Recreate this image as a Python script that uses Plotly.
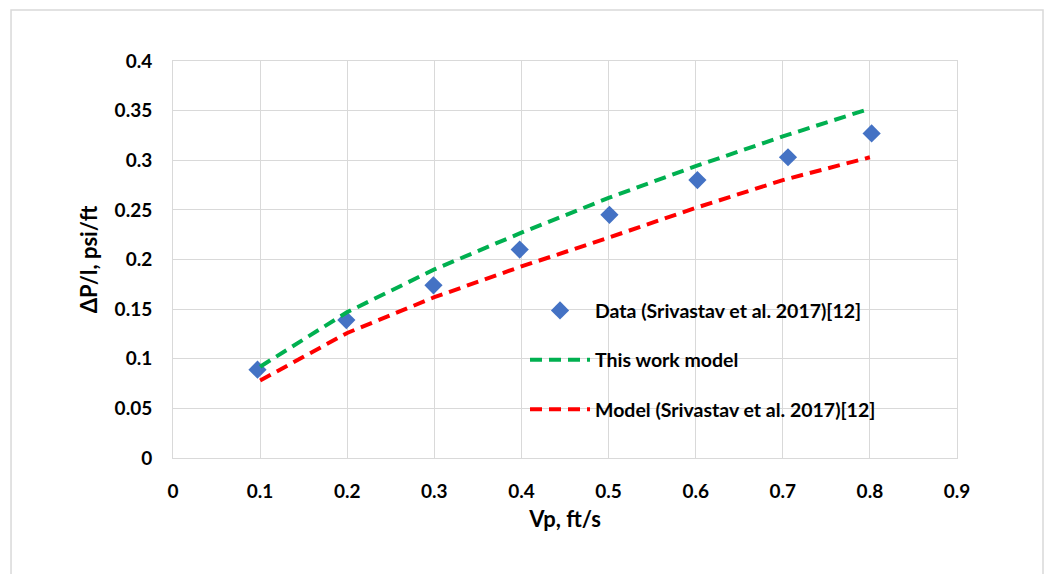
import plotly.graph_objects as go

# Data
data_x = [0.097, 0.199, 0.299, 0.398, 0.501, 0.602, 0.706, 0.802]
data_y = [0.089, 0.139, 0.174, 0.210, 0.245, 0.280, 0.303, 0.327]

model_x = [0.1, 0.2, 0.3, 0.4, 0.5, 0.6, 0.7, 0.8]
this_work_y = [0.092, 0.147, 0.190, 0.227, 0.262, 0.294, 0.324, 0.352]
srivastav_y = [0.078, 0.126, 0.162, 0.193, 0.222, 0.252, 0.280, 0.303]

x_ticks = [0, 0.1, 0.2, 0.3, 0.4, 0.5, 0.6, 0.7, 0.8, 0.9]
x_tick_labels = ["0", "0.1", "0.2", "0.3", "0.4", "0.5", "0.6", "0.7", "0.8", "0.9"]
y_ticks = [0, 0.05, 0.1, 0.15, 0.2, 0.25, 0.3, 0.35, 0.4]
y_tick_labels = ["0", "0.05", "0.1", "0.15", "0.2", "0.25", "0.3", "0.35", "0.4"]

FONT = "Lato"
GRID = "#d9d9d9"

fig = go.Figure()
fig.add_trace(go.Scatter(
    x=data_x, y=data_y, mode="markers", name="Data (Srivastav et al. 2017)[12]",
    marker=dict(symbol="diamond", size=14, color="#4472C4"), legendgroup="a"))
fig.add_trace(go.Scatter(
    x=model_x, y=this_work_y, mode="lines", name="This work model",
    line=dict(color="#00B050", width=4, dash="12px,7px"), legendgroup="b"))
fig.add_trace(go.Scatter(
    x=model_x, y=srivastav_y, mode="lines", name="Model (Srivastav et al. 2017)[12]",
    line=dict(color="#FF0000", width=4, dash="12px,7px"), legendgroup="c"))

fig.update_layout(
    width=1049, height=574,
    margin=dict(l=173, r=92, t=61, b=116),
    paper_bgcolor="white", plot_bgcolor="white",
    font=dict(family=FONT, color="black"),
    legend=dict(
        x=0.449, y=0.42, xanchor="left", yanchor="top",
        bgcolor="rgba(0,0,0,0)",
        font=dict(family=FONT, size=19.5, color="black", weight="bold"),
        traceorder="grouped", tracegroupgap=21, itemwidth=60,
    ),
    xaxis=dict(
        range=[0, 0.9], tickvals=x_ticks, ticktext=x_tick_labels,
        showgrid=True, gridcolor=GRID, gridwidth=1,
        showline=True, linecolor=GRID, linewidth=1, mirror=True,
        zeroline=False, ticks="", ticklen=0, ticklabelstandoff=16,
        tickfont=dict(family=FONT, size=19, weight="bold"),
        title=dict(text="Vp, ft/s", font=dict(family=FONT, size=22, weight="bold"), standoff=10),
    ),
    yaxis=dict(
        range=[0, 0.4], tickvals=y_ticks, ticktext=y_tick_labels,
        showgrid=True, gridcolor=GRID, gridwidth=1,
        showline=True, linecolor=GRID, linewidth=1, mirror=True,
        zeroline=False, ticks="", ticklen=0, ticklabelstandoff=16,
        tickfont=dict(family=FONT, size=19, weight="bold"),
        title=dict(text="ΔP/l, psi/ft", font=dict(family=FONT, size=22, weight="bold"), standoff=10),
    ),
    shapes=[dict(type="rect", xref="paper", yref="paper",
                 x0=-0.2066, x1=1.1097, y0=-0.32, y1=1.1285,
                 line=dict(color=GRID, width=1.5), fillcolor="rgba(0,0,0,0)", layer="below")],
)

fig.write_html("out.html")
